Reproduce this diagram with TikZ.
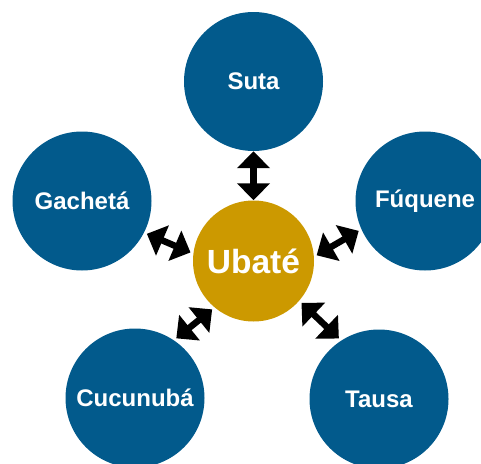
\documentclass[tikz,border=0pt]{standalone}
\usepackage{fontspec}
\setmainfont{Liberation Sans}
\usetikzlibrary{arrows.meta}
\definecolor{townblue}{RGB}{2,90,140}
\definecolor{hubgold}{RGB}{204,153,0}

\begin{document}
\begin{tikzpicture}[
  x=1pt, y=-1pt,
  town/.style={circle, fill=townblue, minimum size=139pt, inner sep=0pt,
    text=white, font=\bfseries\fontsize{24}{24}\selectfont},
  hub/.style={circle, fill=hubgold, minimum size=121pt, inner sep=0pt,
    text=white, font=\bfseries\fontsize{33.5}{33.5}\selectfont},
  link/.style={{Triangle[width=32pt,length=17pt]}-{Triangle[width=32pt,length=17pt]},
    line width=6.5pt, shorten >=3pt, shorten <=3pt},
]
\useasboundingbox (0,0) rectangle (481,463);

\node (ubate) [hub] at (253.5,261) {Ubaté};
\node (suta) [town] at (253.5,81.5) {Suta};
\node (gacheta) [town] at (82,201) {Gachetá};
\node (fuquene) [town] at (425,201) {Fúquene};
\node (cucunuba) [town] at (135,398) {Cucunubá};
\node (tausa) [town] at (379,399) {Tausa};

% \draw [link] (suta) -- (ubate);
\draw [link, shorten >=0pt, shorten <=0pt] (suta.south) -- (ubate.north);
\draw [link] (gacheta.-27.5) -- (ubate.173);
\draw [link] (fuquene.204) -- (ubate.4);
\draw [link] (cucunuba.56) -- (ubate.230);
\draw [link] (tausa.123) -- (ubate.-41.5);

\end{tikzpicture}
\end{document}
